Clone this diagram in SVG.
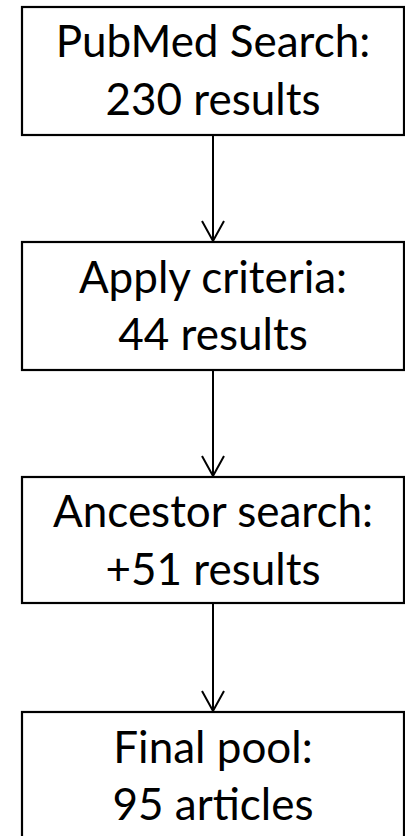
<svg xmlns="http://www.w3.org/2000/svg" width="405" height="836" viewBox="0 0 405 836">
<style>
.box{fill:#fff;stroke:#000;stroke-width:2.2}
.t{font-family:Lato,"Open Sans",sans-serif;font-size:44px;fill:#000;text-anchor:middle}
.c{stroke:#000;stroke-width:2;fill:none}
</style>
<g id="connectors">
<line class="c" x1="213" y1="135" x2="213" y2="241"/>
<line class="c" x1="213" y1="370" x2="213" y2="476"/>
<line class="c" x1="213" y1="603" x2="213" y2="711"/>
<path d="M202,221 L213,241 L224,221" class="c"/>
<path d="M202,456 L213,476 L224,456" class="c"/>
<path d="M202,691 L213,711 L224,691" class="c"/>
</g>
<g id="n1"><rect class="box" x="22" y="7" width="382" height="128"/><text class="t" x="213" y="57">PubMed Search:</text><text class="t" x="213" y="115">230 results</text></g>
<g id="n2"><rect class="box" x="22" y="242" width="382" height="128"/><text class="t" x="213" y="293">Apply criteria:</text><text class="t" x="213" y="350">44 results</text></g>
<g id="n3"><rect class="box" x="22" y="477" width="382" height="126"/><text class="t" x="213" y="527">Ancestor search:</text><text class="t" x="213" y="585">+51 results</text></g>
<g id="n4"><rect class="box" x="22" y="712" width="382" height="140"/><text class="t" x="213" y="763">Final pool:</text><text class="t" x="213" y="820">95 articles</text></g>
</svg>
